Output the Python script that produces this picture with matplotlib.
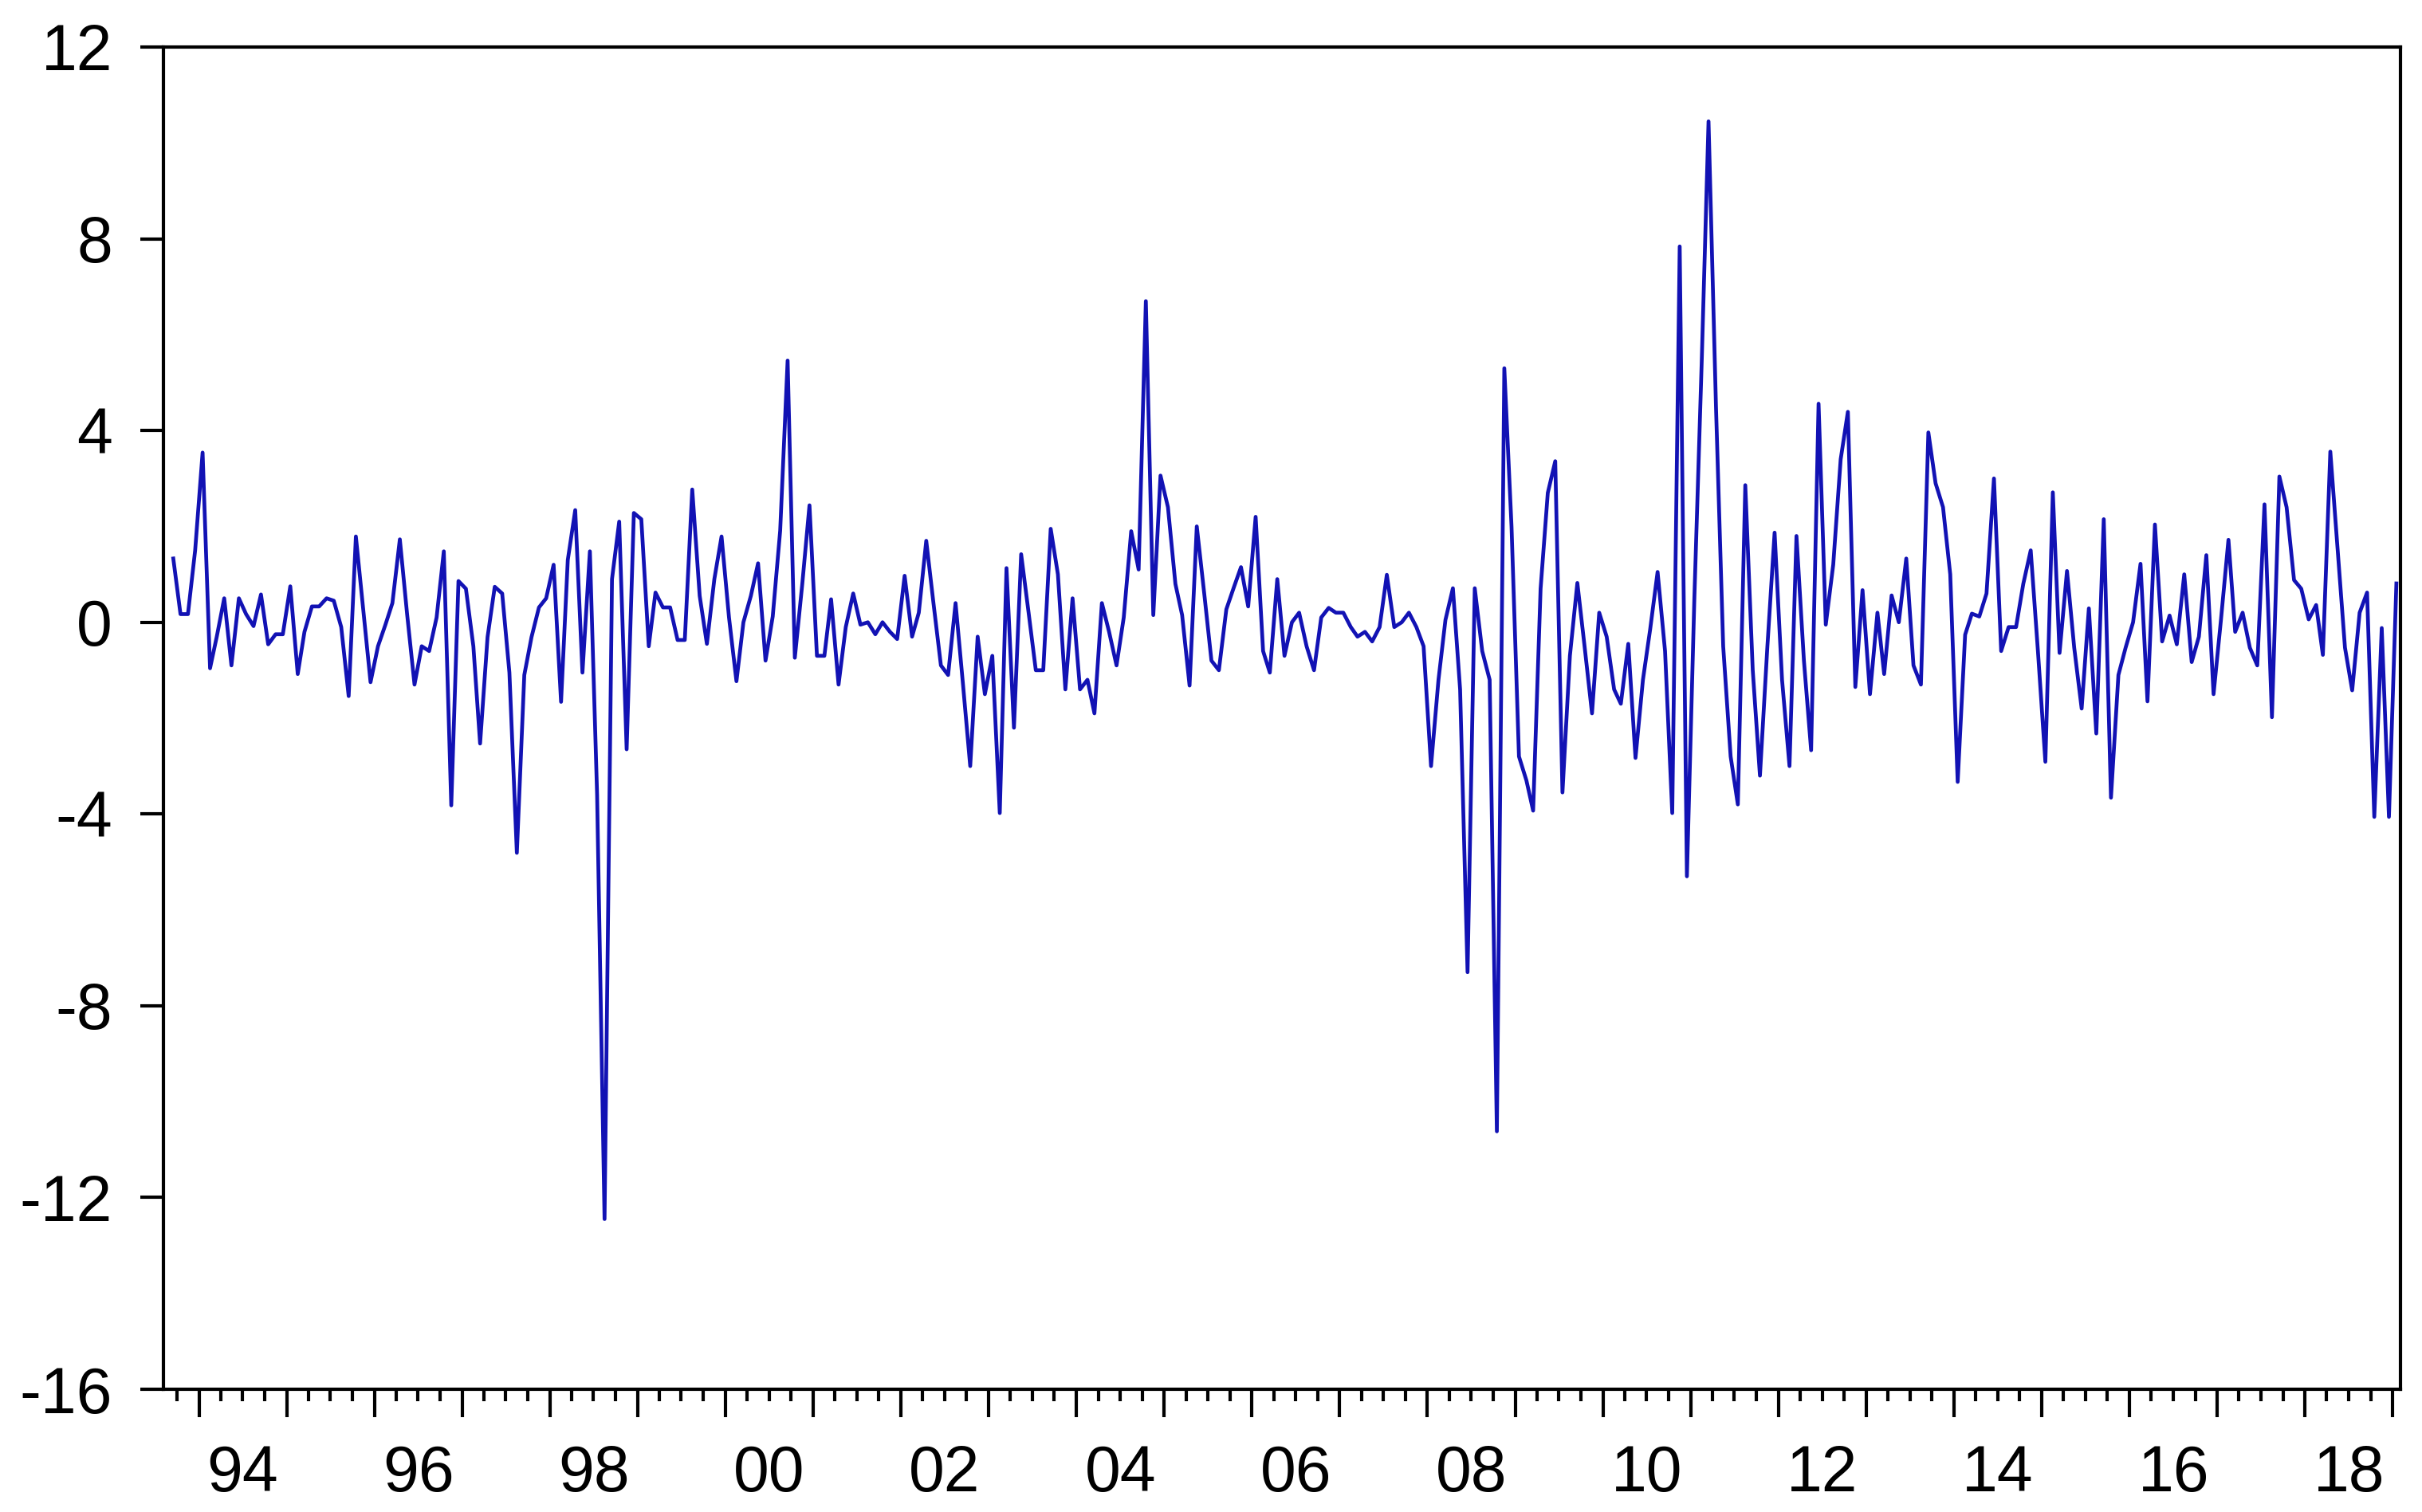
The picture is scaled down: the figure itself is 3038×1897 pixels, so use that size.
import datetime as dt

import matplotlib
matplotlib.use('Agg')
import matplotlib.pyplot as plt
import matplotlib.dates as mdates
from matplotlib.ticker import NullFormatter
import pandas as pd

plt.rcParams['font.family'] = ['Liberation Sans', 'DejaVu Sans']

# monthly values, Sep 1993 .. Jan 2019
vals_1993_1998 = [1.33, 0.17, 0.17, 1.5, 3.54, -0.96, -0.3, 0.5, -0.9, 0.5,
                  0.17, -0.08, 0.58, -0.46, -0.25, -0.25, 0.75, -1.08, -0.2, 0.33,
                  0.33, 0.5, 0.45, -0.1, -1.54, 1.79, 0.25, -1.25, -0.5, -0.05,
                  0.4, 1.73, 0.18, -1.3, -0.5, -0.6, 0.1, 1.48, -3.82, 0.86,
                  0.7, -0.5, -2.53, -0.31, 0.74, 0.6, -1.05, -4.81, -1.1, -0.31,
                  0.31, 0.5, 1.2, -1.66, 1.3, 2.34, -1.05, 1.48, -3.6, -12.45]
vals_1998_2003 = [0.9, 2.1, -2.65, 2.28, 2.15, -0.5, 0.62, 0.31, 0.31, -0.37,
                  -0.37, 2.77, 0.55, -0.45, 0.9, 1.79, 0.1, -1.23, 0.0, 0.55,
                  1.23, -0.8, 0.12, 1.91, 5.46, -0.74, 0.8, 2.44, -0.7, -0.7,
                  0.48, -1.3, -0.1, 0.6, -0.05, 0.0, -0.25, 0.0, -0.2, -0.35,
                  0.97, -0.3, 0.2, 1.7, 0.4, -0.9, -1.1, 0.4, -1.3, -3.0,
                  -0.3, -1.5, -0.7, -3.98, 1.13, -2.2, 1.42, 0.2, -1.0, -1.0]
vals_2003_2008 = [1.95, 1.0, -1.4, 0.5, -1.4, -1.2, -1.9, 0.4, -0.2, -0.9,
                  0.1, 1.9, 1.1, 6.7, 0.15, 3.06, 2.4, 0.8, 0.15, -1.32,
                  2.0, 0.6, -0.8, -1.0, 0.27, 0.71, 1.15, 0.33, 2.2, -0.6,
                  -1.05, 0.9, -0.7, 0.0, 0.2, -0.5, -1.0, 0.1, 0.3, 0.2,
                  0.2, -0.1, -0.3, -0.2, -0.4, -0.1, 0.99, -0.1, 0.0, 0.2,
                  -0.1, -0.5, -3.0, -1.2, 0.05, 0.71, -1.4, -7.3, 0.71, -0.6]
vals_2008_2013 = [-1.2, -10.62, 5.3, 2.0, -2.8, -3.3, -3.93, 0.7, 2.7, 3.36,
                  -3.55, -0.7, 0.82, -0.5, -1.9, 0.2, -0.3, -1.4, -1.7, -0.45,
                  -2.83, -1.2, -0.15, 1.05, -0.6, -3.98, 7.84, -5.3, 0.5, 5.5,
                  10.45, 4.5, -0.5, -2.8, -3.8, 2.86, -1.0, -3.2, -0.5, 1.87,
                  -1.2, -3.0, 1.8, -0.8, -2.67, 4.56, -0.05, 1.2, 3.4, 4.39,
                  -1.35, 0.67, -1.5, 0.2, -1.08, 0.56, 0.0, 1.33, -0.9, -1.3]
vals_2013_2019 = [3.96, 2.9, 2.4, 1.0, -3.33, -0.26, 0.18, 0.12, 0.6, 3.0,
                  -0.6, -0.1, -0.1, 0.8, 1.5, -0.6, -2.91, 2.71, -0.64, 1.07,
                  -0.53, -1.8, 0.29, -2.32, 2.15, -3.66, -1.1, -0.53, 0.0, 1.22,
                  -1.65, 2.04, -0.4, 0.14, -0.46, 1.0, -0.83, -0.3, 1.4, -1.5,
                  0.06, 1.72, -0.2, 0.2, -0.53, -0.9, 2.46, -1.98, 3.04, 2.4,
                  0.88, 0.7, 0.06, 0.36, -0.68, 3.56, 1.55, -0.53, -1.42, 0.2,
                  0.62, -4.06, -0.12, -4.06, 0.81]

values = vals_1993_1998 + vals_1998_2003 + vals_2003_2008 + vals_2008_2013 + vals_2013_2019
months = pd.date_range('1993-09-01', periods=len(values), freq='MS') + pd.Timedelta(days=15)

yticks = [-16, -12, -8, -4, 0, 4, 8, 12]
ytick_labels = ['-16', '-12', '-8', '-4', '0', '4', '8', '12']
label_years = list(range(1994, 2019, 2))

fig = plt.figure(figsize=(30.38, 18.97), dpi=100)
ax = fig.add_axes([205 / 3038, 1 - 1743 / 1897, (3011 - 205) / 3038, (1743 - 59) / 1897])

ax.plot(months, values, color='#1212b4', lw=3.4)

ax.set_ylim(-16, 12)
ax.set_xlim(dt.datetime(1993, 8, 6), dt.datetime(2019, 2, 2))
ax.set_yticks(yticks, labels=ytick_labels)

ax.xaxis.set_major_locator(mdates.YearLocator())
ax.xaxis.set_major_formatter(NullFormatter())
ax.xaxis.set_minor_locator(mdates.MonthLocator(bymonth=[4, 7, 10]))
ax.xaxis.set_minor_formatter(NullFormatter())

ax.tick_params(axis='x', which='major', length=25, width=3, direction='out')
ax.tick_params(axis='x', which='minor', length=11, width=3, direction='out')
ax.tick_params(axis='y', length=21, width=3, pad=25, labelsize=58, direction='out')
for sp in ax.spines.values():
    sp.set_linewidth(3)

# year labels sit in the middle of each (even) year
for y in label_years:
    ax.annotate(f'{y % 100:02d}', xy=(dt.datetime(y, 7, 2), 0),
                xycoords=('data', 'axes fraction'), xytext=(0, -50),
                textcoords='offset points', ha='center', va='top', fontsize=58)

fig.savefig('out.png', dpi=100)
